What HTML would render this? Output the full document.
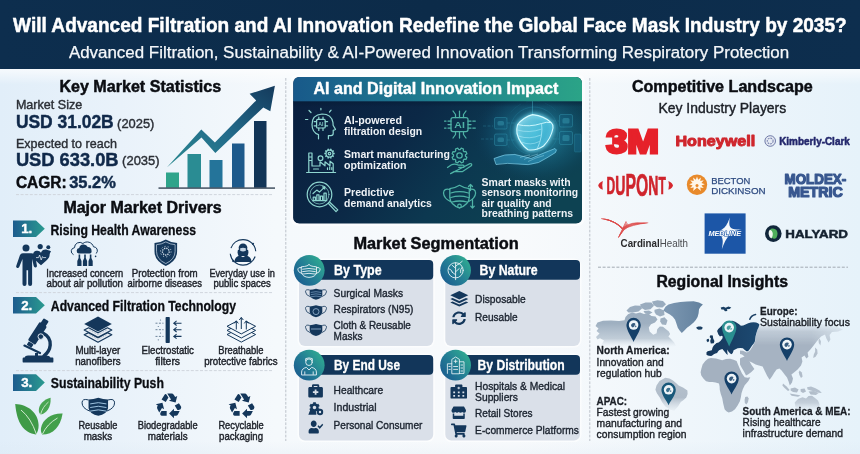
<!DOCTYPE html>
<html lang="en">
<head>
<meta charset="utf-8">
<title>Global Face Mask Industry 2035 Infographic</title>
<style>
html,body{margin:0;padding:0;background:#eaf2f9;}
body{width:860px;height:454px;overflow:hidden;font-family:"Liberation Sans", "DejaVu Sans", sans-serif;}
svg{display:block;font-family:"Liberation Sans", "DejaVu Sans", sans-serif;}
text{white-space:pre;}
</style>
</head>
<body>
<svg width="860" height="454" viewBox="0 0 860 454">
<defs>
<linearGradient id="bg" x1="0" y1="0" x2="1" y2="0">
 <stop offset="0" stop-color="#e1eef9"/><stop offset="0.14" stop-color="#e9f2fa"/><stop offset="0.32" stop-color="#f5f9fc"/>
 <stop offset="0.6" stop-color="#f8fafc"/><stop offset="0.8" stop-color="#eff6fb"/><stop offset="1" stop-color="#e6f2fa"/>
</linearGradient>
<linearGradient id="bgv" x1="0" y1="0" x2="0" y2="1">
 <stop offset="0" stop-color="#ffffff" stop-opacity="0.7"/><stop offset="0.04" stop-color="#ffffff" stop-opacity="0"/>
 <stop offset="0.965" stop-color="#d9e6f1" stop-opacity="0"/><stop offset="1" stop-color="#d9e6f1" stop-opacity="0.22"/>
</linearGradient>
<linearGradient id="hdr" x1="0" y1="0" x2="1" y2="0">
 <stop offset="0" stop-color="#0d2e4e"/><stop offset="0.5" stop-color="#0c2b49"/><stop offset="1" stop-color="#0d2e4e"/>
</linearGradient>
<linearGradient id="aih" x1="0" y1="0" x2="1" y2="0">
 <stop offset="0" stop-color="#18598a"/><stop offset="0.5" stop-color="#1f7f8f"/><stop offset="1" stop-color="#2ba487"/>
</linearGradient>
<linearGradient id="tag" x1="0" y1="0" x2="1" y2="0">
 <stop offset="0" stop-color="#1d5c8e"/><stop offset="1" stop-color="#2a9a8f"/>
</linearGradient>
<linearGradient id="circ" x1="0.1" y1="0.85" x2="0.9" y2="0.2">
 <stop offset="0" stop-color="#1b5f90"/><stop offset="0.5" stop-color="#247f95"/><stop offset="1" stop-color="#2fa791"/>
</linearGradient>
<linearGradient id="arrow" x1="0" y1="1" x2="1" y2="0">
 <stop offset="0" stop-color="#2b8a90"/><stop offset="0.5" stop-color="#226a8a"/><stop offset="1" stop-color="#143a5c"/>
</linearGradient>
<radialGradient id="glow" cx="0.5" cy="0.5" r="0.5">
 <stop offset="0" stop-color="#3fc6d8" stop-opacity="0.75"/><stop offset="0.45" stop-color="#1f7fa0" stop-opacity="0.45"/>
 <stop offset="1" stop-color="#0c2545" stop-opacity="0"/>
</radialGradient>
<clipPath id="aiclip"><rect x="293.3" y="77" width="288.7" height="146.5" rx="6"/></clipPath>
</defs>
<rect x="0" y="0" width="860" height="454" fill="url(#bg)"/>
<rect x="0" y="69" width="860" height="385" fill="url(#bgv)"/>
<rect x="0" y="0" width="860" height="69" fill="url(#hdr)"/>
<text x="13.1" y="31.9" font-size="20.90" font-weight="700" fill="#ffffff" stroke="#ffffff" stroke-width="0.50" stroke-linejoin="round" textLength="833.6" lengthAdjust="spacingAndGlyphs" >Will Advanced Filtration and AI Innovation Redefine the Global Face Mask Industry by 2035?</text>
<text x="68.9" y="57.6" font-size="15.80" font-weight="400" fill="#f4f7fa" stroke="#f4f7fa" stroke-width="0.25" stroke-linejoin="round" textLength="720.3" lengthAdjust="spacingAndGlyphs" >Advanced Filtration, Sustainability &amp; AI-Powered Innovation Transforming Respiratory Protection</text>
<line x1="285.8" y1="78.0" x2="285.8" y2="441.0" stroke="#bcc2ca" stroke-width="1" stroke-dasharray="2.7 1.4"/>
<line x1="589.8" y1="78.0" x2="589.8" y2="441.0" stroke="#bcc2ca" stroke-width="1" stroke-dasharray="2.7 1.4"/>
<line x1="16.0" y1="194.6" x2="272.0" y2="194.6" stroke="#d0d6dd" stroke-width="1" stroke-dasharray="3 1.6"/>
<line x1="16.0" y1="292.6" x2="272.0" y2="292.6" stroke="#d0d6dd" stroke-width="1" stroke-dasharray="3 1.6"/>
<line x1="16.0" y1="370.6" x2="272.0" y2="370.6" stroke="#d0d6dd" stroke-width="1" stroke-dasharray="3 1.6"/>
<line x1="598.0" y1="267.2" x2="848.0" y2="267.2" stroke="#a3aab3" stroke-width="1" stroke-dasharray="3 1.6"/>
<text x="59.4" y="91.9" font-size="15.80" font-weight="700" fill="#0b0d12" stroke="#0b0d12" stroke-width="0.45" stroke-linejoin="round" textLength="161.8" lengthAdjust="spacingAndGlyphs" >Key Market Statistics</text>
<text x="15.9" y="109.4" font-size="12.60" font-weight="400" fill="#2b2f36" stroke="#2b2f36" stroke-width="0.40" stroke-linejoin="round" textLength="66.4" lengthAdjust="spacingAndGlyphs" >Market Size</text>
<text x="15.9" y="128.3" font-size="18.40" font-weight="700" fill="#10294a" stroke="#10294a" stroke-width="0.45" stroke-linejoin="round" textLength="97.8" lengthAdjust="spacingAndGlyphs" >USD 31.02B</text>
<text x="117.1" y="128.0" font-size="13.20" font-weight="400" fill="#2b2f36" stroke="#2b2f36" stroke-width="0.40" stroke-linejoin="round" textLength="37.3" lengthAdjust="spacingAndGlyphs" >(2025)</text>
<text x="15.9" y="147.5" font-size="12.60" font-weight="400" fill="#2b2f36" stroke="#2b2f36" stroke-width="0.40" stroke-linejoin="round" textLength="101.0" lengthAdjust="spacingAndGlyphs" >Expected to reach</text>
<text x="15.9" y="165.5" font-size="18.40" font-weight="700" fill="#10294a" stroke="#10294a" stroke-width="0.45" stroke-linejoin="round" textLength="102.7" lengthAdjust="spacingAndGlyphs" >USD 633.0B</text>
<text x="122.1" y="165.2" font-size="13.20" font-weight="400" fill="#2b2f36" stroke="#2b2f36" stroke-width="0.40" stroke-linejoin="round" textLength="37.5" lengthAdjust="spacingAndGlyphs" >(2035)</text>
<text x="15.9" y="187.8" font-size="16.00" font-weight="700" fill="#0b0d12" stroke="#0b0d12" stroke-width="0.45" stroke-linejoin="round" textLength="50.7" lengthAdjust="spacingAndGlyphs" >CAGR:</text>
<text x="69.2" y="187.8" font-size="16.00" font-weight="700" fill="#10294a" stroke="#10294a" stroke-width="0.45" stroke-linejoin="round" textLength="46.6" lengthAdjust="spacingAndGlyphs" >35.2%</text>
<rect x="166.0" y="172.5" width="13.0" height="15.5" fill="#2fa48b"/>
<rect x="187.5" y="154.0" width="13.5" height="34.0" fill="#2a8c93"/>
<rect x="209.5" y="160.0" width="13.0" height="28.0" fill="#24749a"/>
<rect x="232.0" y="143.5" width="12.5" height="44.5" fill="#1e5a8b"/>
<rect x="254.0" y="121.0" width="12.5" height="67.0" fill="#123557"/>
<rect x="158.5" y="187.3" width="116.5" height="1.6" fill="#4d5b6a"/>
<path d="M166.8 167.4 L201.3 129.4 L214.9 142.4 L256.2 100.4 L249.6 93.8 L274.9 85.8 L270.3 111.2 L263.3 107.4 L215.3 153 L201.5 137.6 Z" fill="url(#arrow)"/>
<text x="63.4" y="213.3" font-size="15.80" font-weight="700" fill="#0b0d12" stroke="#0b0d12" stroke-width="0.45" stroke-linejoin="round" textLength="158.3" lengthAdjust="spacingAndGlyphs" >Major Market Drivers</text>
<path d="M13 220.4 H36 L44.8 228.7 L36 237.0 H13 Z" fill="url(#tag)"/>
<text x="21.2" y="233.1" font-size="12.80" font-weight="700" fill="#ffffff" stroke="#ffffff" stroke-width="0.40" stroke-linejoin="round" textLength="11.1" lengthAdjust="spacingAndGlyphs" >1.</text>
<path d="M13 297.0 H36 L44.8 305.3 L36 313.6 H13 Z" fill="url(#tag)"/>
<text x="21.2" y="309.7" font-size="12.80" font-weight="700" fill="#ffffff" stroke="#ffffff" stroke-width="0.40" stroke-linejoin="round" textLength="11.1" lengthAdjust="spacingAndGlyphs" >2.</text>
<path d="M13 374.2 H36 L44.8 382.5 L36 390.9 H13 Z" fill="url(#tag)"/>
<text x="21.2" y="387.0" font-size="12.80" font-weight="700" fill="#ffffff" stroke="#ffffff" stroke-width="0.40" stroke-linejoin="round" textLength="11.1" lengthAdjust="spacingAndGlyphs" >3.</text>
<text x="50.5" y="234.6" font-size="14.20" font-weight="700" fill="#0b0d12" stroke="#0b0d12" stroke-width="0.30" stroke-linejoin="round" textLength="145.5" lengthAdjust="spacingAndGlyphs" >Rising Health Awareness</text>
<text x="50.8" y="310.6" font-size="14.20" font-weight="700" fill="#0b0d12" stroke="#0b0d12" stroke-width="0.30" stroke-linejoin="round" textLength="185.2" lengthAdjust="spacingAndGlyphs" >Advanced Filtration Technology</text>
<text x="50.8" y="387.7" font-size="14.20" font-weight="700" fill="#0b0d12" stroke="#0b0d12" stroke-width="0.30" stroke-linejoin="round" textLength="113.1" lengthAdjust="spacingAndGlyphs" >Sustainability Push</text>
<text x="46.3" y="276.5" font-size="10.70" font-weight="400" fill="#1d2129" textLength="76.9" lengthAdjust="spacingAndGlyphs" stroke="#1d2129" stroke-width="0.42">Increased concern</text>
<text x="46.6" y="286.7" font-size="10.70" font-weight="400" fill="#1d2129" textLength="76.4" lengthAdjust="spacingAndGlyphs" stroke="#1d2129" stroke-width="0.42">about air pollution</text>
<text x="131.8" y="276.5" font-size="10.70" font-weight="400" fill="#1d2129" textLength="65.9" lengthAdjust="spacingAndGlyphs" stroke="#1d2129" stroke-width="0.42">Protection from</text>
<text x="127.6" y="286.7" font-size="10.70" font-weight="400" fill="#1d2129" textLength="74.4" lengthAdjust="spacingAndGlyphs" stroke="#1d2129" stroke-width="0.42">airborne diseases</text>
<text x="209.4" y="276.5" font-size="10.70" font-weight="400" fill="#1d2129" textLength="65.4" lengthAdjust="spacingAndGlyphs" stroke="#1d2129" stroke-width="0.42">Everyday use in</text>
<text x="213.4" y="286.7" font-size="10.70" font-weight="400" fill="#1d2129" textLength="57.4" lengthAdjust="spacingAndGlyphs" stroke="#1d2129" stroke-width="0.42">public spaces</text>
<text x="75.4" y="354.3" font-size="10.70" font-weight="400" fill="#1d2129" textLength="44.9" lengthAdjust="spacingAndGlyphs" stroke="#1d2129" stroke-width="0.42">Multi-layer</text>
<text x="75.2" y="364.5" font-size="10.70" font-weight="400" fill="#1d2129" textLength="45.4" lengthAdjust="spacingAndGlyphs" stroke="#1d2129" stroke-width="0.42">nanofibers</text>
<text x="141.5" y="354.3" font-size="10.70" font-weight="400" fill="#1d2129" textLength="52.4" lengthAdjust="spacingAndGlyphs" stroke="#1d2129" stroke-width="0.42">Electrostatic</text>
<text x="155.2" y="364.5" font-size="10.70" font-weight="400" fill="#1d2129" textLength="24.9" lengthAdjust="spacingAndGlyphs" stroke="#1d2129" stroke-width="0.42">filters</text>
<text x="218.2" y="354.3" font-size="10.70" font-weight="400" fill="#1d2129" textLength="45.4" lengthAdjust="spacingAndGlyphs" stroke="#1d2129" stroke-width="0.42">Breathable</text>
<text x="204.2" y="364.5" font-size="10.70" font-weight="400" fill="#1d2129" textLength="73.4" lengthAdjust="spacingAndGlyphs" stroke="#1d2129" stroke-width="0.42">protective fabrics</text>
<text x="78.4" y="429.3" font-size="10.70" font-weight="400" fill="#1d2129" textLength="38.9" lengthAdjust="spacingAndGlyphs" stroke="#1d2129" stroke-width="0.42">Reusable</text>
<text x="83.7" y="439.5" font-size="10.70" font-weight="400" fill="#1d2129" textLength="28.4" lengthAdjust="spacingAndGlyphs" stroke="#1d2129" stroke-width="0.42">masks</text>
<text x="137.7" y="429.3" font-size="10.70" font-weight="400" fill="#1d2129" textLength="59.9" lengthAdjust="spacingAndGlyphs" stroke="#1d2129" stroke-width="0.42">Biodegradable</text>
<text x="147.7" y="439.5" font-size="10.70" font-weight="400" fill="#1d2129" textLength="39.9" lengthAdjust="spacingAndGlyphs" stroke="#1d2129" stroke-width="0.42">materials</text>
<text x="218.4" y="429.3" font-size="10.70" font-weight="400" fill="#1d2129" textLength="45.4" lengthAdjust="spacingAndGlyphs" stroke="#1d2129" stroke-width="0.42">Recyclable</text>
<text x="219.1" y="439.5" font-size="10.70" font-weight="400" fill="#1d2129" textLength="43.9" lengthAdjust="spacingAndGlyphs" stroke="#1d2129" stroke-width="0.42">packaging</text>
<rect x="290.2" y="74" width="294.8" height="152" rx="8" fill="#ffffff" opacity="0.55"/>
<g clip-path="url(#aiclip)">
<rect x="293" y="77" width="290" height="146" fill="#0c2444"/>
<defs>
<linearGradient id="aibg" x1="0" y1="0" x2="1" y2="0.35">
 <stop offset="0" stop-color="#0a1f3e"/><stop offset="0.42" stop-color="#0b2846"/><stop offset="0.7" stop-color="#0c3850"/><stop offset="1" stop-color="#0d4252"/>
</linearGradient>
<radialGradient id="aiglow2" cx="0.5" cy="0.5" r="0.5">
 <stop offset="0" stop-color="#56d6ea" stop-opacity="0.55"/><stop offset="0.35" stop-color="#2a9ec0" stop-opacity="0.42"/>
 <stop offset="0.7" stop-color="#17678c" stop-opacity="0.22"/><stop offset="1" stop-color="#0c2a4a" stop-opacity="0"/>
</radialGradient>
<linearGradient id="maskg" x1="0" y1="0" x2="1" y2="1">
 <stop offset="0" stop-color="#c9f6ff"/><stop offset="0.5" stop-color="#63d3ee"/><stop offset="1" stop-color="#2c9cc6"/>
</linearGradient>
<linearGradient id="aishade" x1="0" y1="0" x2="0" y2="1">
 <stop offset="0" stop-color="#061a33" stop-opacity="0.55"/><stop offset="1" stop-color="#061a33" stop-opacity="0"/>
</linearGradient>
</defs>
<rect x="293" y="101" width="290" height="123" fill="url(#aibg)"/>
<ellipse cx="536" cy="134" rx="66" ry="52" fill="url(#aiglow2)"/>
<rect x="293" y="101" width="290" height="6" fill="url(#aishade)"/>
<circle cx="534" cy="131" r="24" fill="none" stroke="#2f9fc0" stroke-width="0.6" opacity="0.35"/>
<circle cx="534" cy="131" r="30" fill="none" stroke="#2f9fc0" stroke-width="0.5" opacity="0.2" stroke-dasharray="14 5"/>
<rect x="494.5" y="117.5" width="12.5" height="11.5" rx="1.5" fill="#14607f" fill-opacity="0.45" stroke="#3fb0c8" stroke-width="0.6" stroke-opacity="0.55"/>
<rect x="497.5" y="121.0" width="6.5" height="4.5" rx="1.5" fill="#4fc3d6" fill-opacity="0.3"/>
<rect x="494.5" y="134.0" width="12.5" height="11.5" rx="1.5" fill="#14607f" fill-opacity="0.45" stroke="#3fb0c8" stroke-width="0.6" stroke-opacity="0.55"/>
<rect x="497.5" y="137.5" width="6.5" height="4.5" rx="1.5" fill="#4fc3d6" fill-opacity="0.3"/>
<rect x="559.5" y="114.5" width="13.0" height="12.5" rx="1.5" fill="#14607f" fill-opacity="0.45" stroke="#3fb0c8" stroke-width="0.6" stroke-opacity="0.55"/>
<rect x="562.5" y="118.0" width="7.0" height="5.5" rx="1.5" fill="#4fc3d6" fill-opacity="0.3"/>
<rect x="559.5" y="131.5" width="13.0" height="13.0" rx="1.5" fill="#14607f" fill-opacity="0.45" stroke="#3fb0c8" stroke-width="0.6" stroke-opacity="0.55"/>
<rect x="562.5" y="135.0" width="7.0" height="6.0" rx="1.5" fill="#4fc3d6" fill-opacity="0.3"/>
<path d="M507 123 h8 M507 140 h8 M553 121 h6 M553 139 h6 M483 126 h10 M481 139 h12" stroke="#3fb2cf" stroke-width="0.6" opacity="0.4" stroke-dasharray="3 1.5"/>
<rect x="574.5" y="134" width="6.500" height="18" rx="1" fill="#1a6f93" fill-opacity="0.4" stroke="#3fb2cf" stroke-width="0.5" stroke-opacity="0.4"/>
<path d="M532.600 101 V115" stroke="#4fc3dc" stroke-width="0.6" opacity="0.7"/>
<filter id="mblur" x="-50%" y="-50%" width="200%" height="200%"><feGaussianBlur stdDeviation="2.2"/></filter>
<path d="M517.600 124.500 Q523.500 117.200 532.600 114.600 Q544.500 116 551.200 122.600 Q553.400 124.600 553 128 Q551 138.500 543.500 146 Q536.500 150.800 528 149.800 Q519.500 143.500 517 133.500 Q516.400 128.500 517.600 124.500 Z" fill="#3fc8ea" fill-opacity="0.55" stroke="#7fe6ff" stroke-width="2.500" filter="url(#mblur)"/>
<path d="M517.600 124.500 Q523.500 117.200 532.600 114.600 Q544.500 116 551.200 122.600 Q553.400 124.600 553 128 Q551 138.500 543.500 146 Q536.500 150.800 528 149.800 Q519.500 143.500 517 133.500 Q516.400 128.500 517.600 124.500 Z" fill="url(#maskg)" fill-opacity="0.5" stroke="#d6fbff" stroke-width="1.1" stroke-linejoin="round"/>
<path d="M517.600 124.500 Q529 127.500 541.500 123.500 Q547 121.500 551.200 122.600" fill="none" stroke="#d6fbff" stroke-width="0.9"/>
<path d="M541.500 123.500 Q543.500 135 537 149.500" fill="none" stroke="#c2f3ff" stroke-width="0.7" opacity="0.9"/>
<path d="M517.500 130 Q529 133.500 541.800 129 M518.500 136 Q529 140 541 135 M521.500 142 Q530 146 539.500 141.500" fill="none" stroke="#c9f6ff" stroke-width="0.6" opacity="0.75"/>
<path d="M494 158.500 Q505 153.500 515 154.500 Q524 156.500 531 158.500 Q540 154.500 555 148.500 Q557.500 149.500 555.500 152.500 Q547 158 538.500 162.500 Q528 166 518 164 Q508 162.500 496 164.500z" fill="#3fb8e6" fill-opacity="0.42" stroke="#8fe0fa" stroke-width="0.7" stroke-opacity="0.85" filter="url(#hblur)"/>
<filter id="hblur" x="-20%" y="-50%" width="140%" height="200%"><feGaussianBlur stdDeviation="0.35"/></filter>
<path d="M524 159.500 q7 -4 14 -5.500 M528 161.500 q8 -4 16 -6 M520 157.500 q5 -2 10 -2.500" fill="none" stroke="#bdf1fc" stroke-width="0.5" opacity="0.7"/>
<rect x="293" y="77" width="290" height="24.3" fill="url(#aih)"/>
</g>
<g fill="none" stroke="#8fd6d0" stroke-width="1.2" stroke-linecap="round" stroke-linejoin="round">
<path d="M318.500 138.800 v-4.200 q-6.500 -2.400 -6.500 -10.200 q0 -9.600 10 -10.400 q9.500 0 11 8.600 l0.100 2.600 l2.400 4.200 l-2.300 1 v3.200 q0 2 -2.200 2 h-2.600 v3.200"/>
<rect x="316.600" y="119.400" width="8.600" height="8.600" rx="1"/>
<path d="M318.800 119.400 v-2.400 M323 119.400 v-2.400 M318.800 128 v2.400 M323 128 v2.400 M316.600 121.600 h-2.400 M316.600 125.800 h-2.400 M325.200 121.600 h2.400 M325.200 125.800 h2.400"/>
<path d="M311 112.500 l-2 -2 M307.800 119.500 h-2.300 M320.900 109.800 v-1.500 M329.500 112 l1.600 -1.800"/>
<path d="M306.600 172.500 h29 M308.800 172.500 v-19.500 h3.200 v13 M312 166 h8 l0 -4.200 l5 4 v-4 l5 4 v-4.600 l3.200 2.600 v8.700 M308.800 157 h3.200 M308.800 160.500 h3.200"/>
<circle cx="329.500" cy="153.600" r="3.500"/><circle cx="329.500" cy="153.600" r="1.300"/>
<circle cx="320.500" cy="158.300" r="2.400"/>
<path d="M313.500 169 h5 M327.500 169.500 v-1.600 M329.700 169.500 v-2.600 M331.800 169.500 v-1.800"/>
</g>
<path d="M333.00 153.60 L334.70 153.60 M332.33 155.66 L333.71 156.66 M330.58 156.93 L331.11 158.55 M328.42 156.93 L327.89 158.55 M326.67 155.66 L325.29 156.66 M326.00 153.60 L324.30 153.60 M326.67 151.54 L325.29 150.54 M328.42 150.27 L327.89 148.65 M330.58 150.27 L331.11 148.65 M332.33 151.54 L333.71 150.54" stroke="#8fd6d0" stroke-width="1.500" fill="none"/>
<g fill="none" stroke="#8fd6d0" stroke-width="1.2" stroke-linecap="round" stroke-linejoin="round">
<circle cx="319.500" cy="194.500" r="12.300"/>
<circle cx="319.500" cy="194.500" r="9.500" stroke-width="0.7"/>
<path d="M328.500 203.500 l7.500 8.200 l1.800 -1.800 l-8 -7.600" />
<path d="M313.200 200.500 v-3.400 h2.200 v3.400 M316.800 200.500 v-5.600 h2.200 v5.600 M320.400 200.500 v-4.400 h2.200 v4.400 M324 200.500 v-7.400 h2.200 v7.400 M312.600 200.700 h14.200"/>
<path d="M313 193.500 l3.800 -3.400 l2.600 2 l5.400 -5.200 M322.600 186.900 h2.200 v2.200"/>
</g>
<g fill="none" stroke="#4fb3a6" stroke-width="1.25" stroke-linecap="round" stroke-linejoin="round">
<rect x="451" y="117.500" width="17" height="14" rx="2"/>
<path d="M448 121 h3 M448 124.500 h3 M448 128 h3 M468 121 h3 M468 124.500 h3 M468 128 h3 M444.500 121 h1.500 M444.500 128 h1.500 M472.800 121 h2.500 M472.800 128 h2.500"/>
<path d="M455.500 117.500 v-3 l-2.500 -3.500 M459.500 117.500 v-6.500 M463.500 117.500 v-3 l2.500 -3.500 M455.500 131.500 v3 l-2.500 3.500 M459.500 131.500 v6.500 M463.500 131.500 v3 l2.500 3.500"/>
<circle cx="459.500" cy="155.500" r="2.700"/>
<path d="M447.500 167.500 l4 -2.800 q3.500 -1.600 7 0.500 h4.500 q1.800 0.500 0.800 2.200 h-5 M463.500 167 l6.500 -3.400 q2.200 -0.200 1.600 1.800 l-9 6.200 h-8.500 l-3.500 2 z"/>
</g>
<path d="M466.90 157.23 L465.98 159.47 L464.20 159.23 L463.25 160.18 L463.51 161.96 L461.27 162.89 L460.19 161.46 L458.84 161.46 L457.77 162.90 L455.53 161.98 L455.77 160.20 L454.82 159.25 L453.04 159.51 L452.11 157.27 L453.54 156.19 L453.54 154.84 L452.10 153.77 L453.02 151.53 L454.80 151.77 L455.75 150.82 L455.49 149.04 L457.73 148.11 L458.81 149.54 L460.16 149.54 L461.23 148.10 L463.47 149.02 L463.23 150.80 L464.18 151.75 L465.96 151.49 L466.89 153.73 L465.46 154.81 L465.46 156.16 Z" fill="none" stroke="#4fb3a6" stroke-width="1.25" stroke-linejoin="round"/>
<text x="454.300" y="127.800" font-size="8.500" font-weight="700" fill="#4fb3a6" textLength="10.500" lengthAdjust="spacingAndGlyphs">AI</text>
<text x="318.300" y="126.200" font-size="5.500" font-weight="700" fill="#8fd6d0" textLength="5.200" lengthAdjust="spacingAndGlyphs" opacity="0.9">AI</text>
<g fill="none" stroke="#4fb3a6" stroke-width="1.25" stroke-linecap="round" stroke-linejoin="round">
<path d="M449.800 188.600 q5 -0.300 9.700 -3.300 q4.800 3 9.800 3.300 v9 q-0.500 7 -9.800 10.400 q-9.200 -3.400 -9.700 -10.400z"/>
<path d="M450.800 193 q8.700 -2.600 17.600 0 M450.800 197.500 q8.700 -2.600 17.600 0 M452 202 q7.600 -2 15.200 0"/>
<path d="M449.800 189.500 q-6 -1.500 -6.300 3.500 q0.300 5.500 7.200 8.600 M469.300 189.500 q6 -1.500 6.300 3.500 q-0.300 5.500 -7.200 8.600"/>
<path d="M470.500 184.500 v6 M468.500 186.500 l2 -2 l2 2 M472.500 199 v9 M470.700 206.200 l1.800 2 l1.800 -2"/>
<circle cx="459.500" cy="206" r="1.800"/>
</g>
<text x="313.5" y="94.2" font-size="15.60" font-weight="700" fill="#ffffff" stroke="#ffffff" stroke-width="0.40" stroke-linejoin="round" textLength="244.8" lengthAdjust="spacingAndGlyphs" >AI and Digital Innovation Impact</text>
<text x="344.0" y="124.0" font-size="11.60" font-weight="700" fill="#eef2f6" textLength="58.0" lengthAdjust="spacingAndGlyphs" >AI-powered</text>
<text x="344.0" y="134.8" font-size="11.60" font-weight="700" fill="#eef2f6" textLength="78.2" lengthAdjust="spacingAndGlyphs" >filtration design</text>
<text x="344.0" y="158.4" font-size="11.60" font-weight="700" fill="#eef2f6" textLength="106.0" lengthAdjust="spacingAndGlyphs" >Smart manufacturing</text>
<text x="344.0" y="169.2" font-size="11.60" font-weight="700" fill="#eef2f6" textLength="62.6" lengthAdjust="spacingAndGlyphs" >optimization</text>
<text x="344.0" y="196.2" font-size="11.60" font-weight="700" fill="#eef2f6" textLength="50.4" lengthAdjust="spacingAndGlyphs" >Predictive</text>
<text x="344.0" y="207.0" font-size="11.60" font-weight="700" fill="#eef2f6" textLength="87.8" lengthAdjust="spacingAndGlyphs" >demand analytics</text>
<text x="481.6" y="185.5" font-size="11.50" font-weight="700" fill="#eef2f6" textLength="89.0" lengthAdjust="spacingAndGlyphs" >Smart masks with</text>
<text x="481.6" y="196.1" font-size="11.50" font-weight="700" fill="#eef2f6" textLength="96.5" lengthAdjust="spacingAndGlyphs" >sensors monitoring</text>
<text x="481.6" y="206.7" font-size="11.50" font-weight="700" fill="#eef2f6" textLength="70.0" lengthAdjust="spacingAndGlyphs" >air quality and</text>
<text x="481.6" y="217.3" font-size="11.50" font-weight="700" fill="#eef2f6" textLength="91.5" lengthAdjust="spacingAndGlyphs" >breathing patterns</text>
<text x="353.4" y="249.3" font-size="15.80" font-weight="700" fill="#0b0d12" stroke="#0b0d12" stroke-width="0.45" stroke-linejoin="round" textLength="165.3" lengthAdjust="spacingAndGlyphs" >Market Segmentation</text>
<rect x="297.4" y="258.4" width="137.4" height="89.2" rx="7.5" fill="#ffffff" opacity="0.6"/>
<path d="M299.0 268.0 H433.2 V340.0 a6 6 0 0 1 -6 6 H305.0 a6 6 0 0 1 -6 -6 Z" fill="#dae0e9"/>
<rect x="312.0" y="260.0" width="121.2" height="19.8" rx="4" fill="#12365a"/>
<circle cx="309.2" cy="270.3" r="15.4" fill="url(#circ)"/>
<text x="334.0" y="274.8" font-size="14.40" font-weight="700" fill="#ffffff" stroke="#ffffff" stroke-width="0.30" stroke-linejoin="round" textLength="47.7" lengthAdjust="spacingAndGlyphs" >By Type</text>
<rect x="443.7" y="258.4" width="137.9" height="89.2" rx="7.5" fill="#ffffff" opacity="0.6"/>
<path d="M445.3 268.0 H580.0 V340.0 a6 6 0 0 1 -6 6 H451.3 a6 6 0 0 1 -6 -6 Z" fill="#dae0e9"/>
<rect x="455.0" y="260.0" width="125.0" height="19.8" rx="4" fill="#12365a"/>
<circle cx="455.6" cy="270.3" r="15.4" fill="url(#circ)"/>
<text x="479.5" y="274.8" font-size="14.40" font-weight="700" fill="#ffffff" stroke="#ffffff" stroke-width="0.30" stroke-linejoin="round" textLength="58.2" lengthAdjust="spacingAndGlyphs" >By Nature</text>
<rect x="297.4" y="353.4" width="137.4" height="88.7" rx="7.5" fill="#ffffff" opacity="0.6"/>
<path d="M299.0 363.0 H433.2 V434.5 a6 6 0 0 1 -6 6 H305.0 a6 6 0 0 1 -6 -6 Z" fill="#dae0e9"/>
<rect x="312.0" y="355.0" width="121.2" height="19.8" rx="4" fill="#12365a"/>
<circle cx="309.2" cy="365.2" r="15.4" fill="url(#circ)"/>
<text x="334.0" y="369.8" font-size="14.40" font-weight="700" fill="#ffffff" stroke="#ffffff" stroke-width="0.30" stroke-linejoin="round" textLength="66.0" lengthAdjust="spacingAndGlyphs" >By End Use</text>
<rect x="443.7" y="353.4" width="137.9" height="88.7" rx="7.5" fill="#ffffff" opacity="0.6"/>
<path d="M445.3 363.0 H580.0 V434.5 a6 6 0 0 1 -6 6 H451.3 a6 6 0 0 1 -6 -6 Z" fill="#dae0e9"/>
<rect x="455.0" y="355.0" width="125.0" height="19.8" rx="4" fill="#12365a"/>
<circle cx="455.6" cy="365.2" r="15.4" fill="url(#circ)"/>
<text x="477.5" y="369.8" font-size="14.40" font-weight="700" fill="#ffffff" stroke="#ffffff" stroke-width="0.30" stroke-linejoin="round" textLength="87.2" lengthAdjust="spacingAndGlyphs" >By Distribution</text>
<text x="333.6" y="297.0" font-size="11.80" font-weight="400" fill="#1c2430" stroke="#1c2430" stroke-width="0.40" stroke-linejoin="round" textLength="69.5" lengthAdjust="spacingAndGlyphs" >Surgical Masks</text>
<text x="333.6" y="313.2" font-size="11.80" font-weight="400" fill="#1c2430" stroke="#1c2430" stroke-width="0.40" stroke-linejoin="round" textLength="79.8" lengthAdjust="spacingAndGlyphs" >Respirators (N95)</text>
<text x="333.6" y="329.3" font-size="11.80" font-weight="400" fill="#1c2430" stroke="#1c2430" stroke-width="0.40" stroke-linejoin="round" textLength="77.3" lengthAdjust="spacingAndGlyphs" >Cloth &amp; Reusable</text>
<text x="333.6" y="340.0" font-size="11.80" font-weight="400" fill="#1c2430" stroke="#1c2430" stroke-width="0.40" stroke-linejoin="round" textLength="29.0" lengthAdjust="spacingAndGlyphs" >Masks</text>
<text x="475.1" y="303.0" font-size="11.80" font-weight="400" fill="#1c2430" stroke="#1c2430" stroke-width="0.40" stroke-linejoin="round" textLength="50.5" lengthAdjust="spacingAndGlyphs" >Disposable</text>
<text x="475.1" y="320.5" font-size="11.80" font-weight="400" fill="#1c2430" stroke="#1c2430" stroke-width="0.40" stroke-linejoin="round" textLength="42.5" lengthAdjust="spacingAndGlyphs" >Reusable</text>
<text x="333.6" y="394.0" font-size="11.80" font-weight="400" fill="#1c2430" stroke="#1c2430" stroke-width="0.40" stroke-linejoin="round" textLength="49.5" lengthAdjust="spacingAndGlyphs" >Healthcare</text>
<text x="333.6" y="411.3" font-size="11.80" font-weight="400" fill="#1c2430" stroke="#1c2430" stroke-width="0.40" stroke-linejoin="round" textLength="43.0" lengthAdjust="spacingAndGlyphs" >Industrial</text>
<text x="333.6" y="429.0" font-size="11.80" font-weight="400" fill="#1c2430" stroke="#1c2430" stroke-width="0.40" stroke-linejoin="round" textLength="88.8" lengthAdjust="spacingAndGlyphs" >Personal Consumer</text>
<text x="475.1" y="390.0" font-size="11.80" font-weight="400" fill="#1c2430" stroke="#1c2430" stroke-width="0.40" stroke-linejoin="round" textLength="90.0" lengthAdjust="spacingAndGlyphs" >Hospitals &amp; Medical</text>
<text x="475.1" y="401.0" font-size="11.80" font-weight="400" fill="#1c2430" stroke="#1c2430" stroke-width="0.40" stroke-linejoin="round" textLength="42.8" lengthAdjust="spacingAndGlyphs" >Suppliers</text>
<text x="475.1" y="417.0" font-size="11.80" font-weight="400" fill="#1c2430" stroke="#1c2430" stroke-width="0.40" stroke-linejoin="round" textLength="57.5" lengthAdjust="spacingAndGlyphs" >Retail Stores</text>
<text x="475.1" y="434.0" font-size="11.80" font-weight="400" fill="#1c2430" stroke="#1c2430" stroke-width="0.40" stroke-linejoin="round" textLength="103.8" lengthAdjust="spacingAndGlyphs" >E-commerce Platforms</text>
<text x="631.9" y="92.1" font-size="15.80" font-weight="700" fill="#0b0d12" stroke="#0b0d12" stroke-width="0.45" stroke-linejoin="round" textLength="180.8" lengthAdjust="spacingAndGlyphs" >Competitive Landscape</text>
<text x="658.5" y="113.0" font-size="14.00" font-weight="400" fill="#1b1f26" stroke="#1b1f26" stroke-width="0.40" stroke-linejoin="round" textLength="127.7" lengthAdjust="spacingAndGlyphs" >Key Industry Players</text>
<text x="606.2" y="152.7" font-size="32.50" font-weight="700" fill="#e6212a" textLength="52.8" lengthAdjust="spacingAndGlyphs" stroke="#e6212a" stroke-width="2.9" stroke-linejoin="miter">3M</text>
<text x="675.4" y="145.6" font-size="14.40" font-weight="700" fill="#cf262d" textLength="79.8" lengthAdjust="spacingAndGlyphs" stroke="#cf262d" stroke-width="0.95" stroke-linejoin="round">Honeywell</text>
<circle cx="770.2" cy="141" r="5.3" fill="#e4eaf3" stroke="#6f7aa8" stroke-width="1"/>
<circle cx="770.2" cy="141" r="2.900" fill="none" stroke="#7e88b2" stroke-width="1.1" stroke-dasharray="1.8 0.9"/>
<text x="779.2" y="144.5" font-size="10.20" font-weight="700" fill="#23276c" textLength="70.6" lengthAdjust="spacingAndGlyphs" stroke="#23276c" stroke-width="0.5" stroke-linejoin="round">Kimberly-Clark</text>
<text x="606.6" y="193.7" font-size="23.5" font-weight="700" fill="#cf242c" stroke="#cf242c" stroke-width="0.7" textLength="59.2" lengthAdjust="spacingAndGlyphs">D<tspan font-size="27.6" dy="1.4">U</tspan><tspan font-size="31" dy="1.2">P</tspan><tspan font-size="31">O</tspan><tspan font-size="27.6" dy="-1.2">N</tspan><tspan font-size="23.5" dy="-1.4">T</tspan></text>
<path d="M598.2 185.4 q0.600 -2.600 4.600 -4.400 q-1.200 4.400 0 8.800 q-4 -1.800 -4.600 -4.400z" fill="#d6272e"/>
<path d="M673 185.400 q-0.600 -2.600 -4.600 -4.400 q1.200 4.400 0 8.800 q4 -1.800 4.600 -4.400z" fill="#d6272e"/>
<circle cx="697" cy="184.700" r="10.2" fill="#e88a2b"/>
<path d="M697.00 176.40 L698.19 179.76 L700.90 177.45 L700.25 180.95 L703.75 180.30 L701.44 183.01 L704.80 184.20 L701.44 185.39 L703.75 188.10 L700.25 187.45 L700.90 190.95 L698.19 188.64 L697.00 192.00 L695.81 188.64 L693.10 190.95 L693.75 187.45 L690.25 188.10 L692.56 185.39 L689.20 184.20 L692.56 183.01 L690.25 180.30 L693.75 180.95 L693.10 177.45 L695.81 179.76 Z" fill="#fff7ea"/>
<path d="M693.800 191.600 l3.200 -4.400 l3.200 4.400 l-1.600 1.800 h-3.200z" fill="#e88a2b"/>
<circle cx="697" cy="185.600" r="1.500" fill="#e88a2b"/>
<text x="711.2" y="184.1" font-size="9.90" font-weight="400" fill="#2d4a80" textLength="39.1" lengthAdjust="spacingAndGlyphs" stroke="#2d4a80" stroke-width="0.25">BECTON</text>
<text x="711.2" y="193.8" font-size="9.90" font-weight="400" fill="#2d4a80" textLength="54.4" lengthAdjust="spacingAndGlyphs" stroke="#2d4a80" stroke-width="0.25">DICKINSON</text>
<text x="784.6" y="184.3" font-size="13.80" font-weight="700" fill="#38578f" textLength="61.6" lengthAdjust="spacingAndGlyphs" stroke="#38578f" stroke-width="1.2" stroke-linejoin="round">MOLDEX-</text>
<text x="788.2" y="197.3" font-size="13.80" font-weight="700" fill="#38578f" textLength="54.6" lengthAdjust="spacingAndGlyphs" stroke="#38578f" stroke-width="1.2" stroke-linejoin="round">METRIC</text>
<g fill="none" stroke="#dc4a4a" stroke-width="0.7" stroke-linecap="round">
<path d="M601.5 218.6 Q615.0 220.0 622.6 229.6 Q632.0 224.5 647.8 222.8"/>
<path d="M626.0 221.5 Q622.5 229.0 618.5 237.5"/>
<path d="M602.8 218.8 Q615.4 220.6 622.6 229.3 Q632.0 223.8 646.4 222.9"/>
<path d="M626.5 222.5 Q622.7 229.0 618.8 236.9"/>
<path d="M604.1 219.0 Q615.9 221.1 622.6 228.9 Q632.0 223.2 644.9 223.0"/>
<path d="M627.1 223.5 Q622.9 229.0 619.2 236.4"/>
<path d="M605.5 219.3 Q616.3 221.7 622.6 228.6 Q632.0 222.5 643.5 223.1"/>
<path d="M627.6 224.5 Q623.2 229.0 619.5 235.8"/>
<path d="M606.8 219.5 Q616.8 222.2 622.6 228.3 Q632.0 221.9 642.1 223.2"/>
<path d="M628.2 225.5 Q623.4 229.0 619.8 235.3"/>
<path d="M608.1 219.7 Q617.2 222.8 622.6 227.9 Q632.0 221.2 640.6 223.4"/>
<path d="M628.8 226.4 Q623.6 229.0 620.1 234.8"/>
</g>
<text x="620.6" y="246.6" font-size="11.3" font-weight="700" fill="#2a2a2c" textLength="67.4" lengthAdjust="spacingAndGlyphs">Cardinal<tspan font-weight="400" fill="#4a4c50">Health</tspan></text>
<rect x="704.6" y="213.4" width="41" height="40.300" fill="#1c56a7"/>
<path d="M729.8 217.6 C728.2 228 730 230.400 741.8 229.200 C730.400 232 726.600 236 721.800 249.600 C724.400 236.400 722.600 233.600 708.800 233.800 C723 231.400 726.200 228 729.800 217.600 Z" fill="#f4f8fc"/>
<text x="708.4" y="236.1" font-size="6.80" font-weight="700" fill="#ffffff" textLength="32.8" lengthAdjust="spacingAndGlyphs" font-style="italic" stroke="#1c56a7" stroke-width="1.1" paint-order="stroke" stroke-linejoin="round">MEDLINE</text>
<circle cx="773.3" cy="233.600" r="8.3" fill="#11263b"/>
<path d="M770.8 228.8 q3.4 -1.2 5.600 1.200 q2.200 3.200 0.200 7.400 q-1.400 1.800 -3.600 1.200 q-2.600 -1 -3.400 -4.200 q-0.600 -3.600 1.200 -5.600z" fill="#4fae5c"/>
<path d="M769.800 229.800 q2.600 0.600 3 4 q0.200 2.800 -1.400 4.600 q-2.400 -1.200 -2.800 -4.400 q-0.200 -2.600 1.200 -4.200z" fill="#f0f6f0"/>
<text x="785.3" y="237.8" font-size="11.40" font-weight="700" fill="#14212f" textLength="62.7" lengthAdjust="spacingAndGlyphs" stroke="#14212f" stroke-width="0.5">HALYARD</text>
<text x="656.4" y="287.3" font-size="15.80" font-weight="700" fill="#0b0d12" stroke="#0b0d12" stroke-width="0.45" stroke-linejoin="round" textLength="131.6" lengthAdjust="spacingAndGlyphs" >Regional Insights</text>
<defs>
<linearGradient id="naG" gradientUnits="userSpaceOnUse" x1="0" y1="300" x2="0" y2="347">
 <stop offset="0" stop-color="#98abbe"/><stop offset="0.5" stop-color="#9fb0c1"/><stop offset="0.82" stop-color="#b4c2cf" stop-opacity="0.8"/><stop offset="1" stop-color="#d5dee7" stop-opacity="0"/>
</linearGradient>
<linearGradient id="grG" gradientUnits="userSpaceOnUse" x1="663" y1="0" x2="703" y2="0">
 <stop offset="0" stop-color="#7f99b3"/><stop offset="1" stop-color="#62819e"/>
</linearGradient>
<linearGradient id="asG" gradientUnits="userSpaceOnUse" x1="0" y1="320" x2="0" y2="345">
 <stop offset="0" stop-color="#cfd8e2" stop-opacity="0"/><stop offset="0.45" stop-color="#b4c0cd" stop-opacity="0.8"/><stop offset="1" stop-color="#a6b3c2"/>
</linearGradient>
<linearGradient id="asFade" gradientUnits="userSpaceOnUse" x1="812" y1="0" x2="850" y2="0">
 <stop offset="0" stop-color="#fff"/><stop offset="1" stop-color="#fff" stop-opacity="0.35"/>
</linearGradient>
<mask id="asM" maskUnits="userSpaceOnUse" x="740" y="300" width="120" height="130"><rect x="740" y="300" width="120" height="130" fill="url(#asFade)"/></mask>
<linearGradient id="saG" gradientUnits="userSpaceOnUse" x1="0" y1="377" x2="0" y2="411">
 <stop offset="0" stop-color="#b6c2ce"/><stop offset="0.6" stop-color="#b0bcc9"/><stop offset="1" stop-color="#c9d3dd" stop-opacity="0.15"/>
</linearGradient>
<linearGradient id="euG" gradientUnits="userSpaceOnUse" x1="706" y1="0" x2="760" y2="0">
 <stop offset="0" stop-color="#15375b"/><stop offset="1" stop-color="#1d4a72"/>
</linearGradient>
<linearGradient id="auG" gradientUnits="userSpaceOnUse" x1="0" y1="395" x2="0" y2="411">
 <stop offset="0" stop-color="#b2becb"/><stop offset="0.5" stop-color="#bcc7d3" stop-opacity="0.8"/><stop offset="1" stop-color="#d3dce5" stop-opacity="0"/>
</linearGradient>
</defs>
<path d="M595.5 326.0 L597.5 322.4 L603.0 320.8 L611.0 320.6 L619.0 321.0 L624.5 320.3 L625.5 317.0 L628.0 314.2 L632.0 312.6 L636.0 313.6 L640.0 312.4 L644.0 314.0 L648.0 313.4 L651.5 316.0 L655.5 316.6 L657.5 319.6 L655.0 322.6 L651.0 324.2 L648.8 327.6 L649.6 331.6 L653.2 334.8 L656.6 333.2 L657.2 329.2 L659.8 326.4 L663.0 326.8 L666.0 329.2 L668.6 331.2 L670.2 334.0 L668.4 336.6 L671.0 339.0 L674.2 342.6 L676.0 346.0 L672.0 347.0 L600.0 347.0 L604.0 340.5 L600.0 338.2 L597.5 339.6 L596.0 337.0 L599.5 333.5 L596.5 331.0 L598.5 328.4 Z" fill="url(#naG)" />
<path d="M626.5 310.5 L630.0 307.0 L635.0 305.4 L640.5 305.8 L642.0 308.6 L638.5 311.4 L633.0 312.4 L628.5 312.6 Z" fill="url(#naG)" />
<path d="M640.0 304.5 L645.5 302.4 L651.5 302.6 L654.0 305.8 L650.5 309.2 L645.0 310.0 L641.5 308.0 Z" fill="url(#naG)" />
<path d="M652.0 301.6 L657.5 300.2 L663.0 301.0 L666.0 304.2 L662.5 307.6 L657.0 307.2 L653.5 305.0 Z" fill="url(#naG)" />
<path d="M654.5 309.8 L659.5 308.4 L664.0 310.6 L664.5 315.0 L660.0 316.4 L656.0 314.6 L654.5 312.0 Z" fill="url(#naG)" />
<path d="M643.5 311.0 L649.0 310.4 L652.5 312.6 L649.0 314.4 L645.0 313.6 Z" fill="url(#naG)" />
<path d="M660.5 318.5 L664.5 317.2 L667.5 320.6 L666.0 325.0 L662.0 324.4 L660.2 321.6 Z" fill="url(#naG)" />
<path d="M663.3 310.5 L665.5 306.8 L668.5 304.6 L674.0 303.0 L680.4 302.0 L687.0 301.4 L693.6 301.3 L699.0 302.4 L702.9 304.6 L700.6 306.8 L699.0 309.2 L698.6 313.2 L697.6 317.1 L695.8 320.0 L693.6 322.4 L690.4 325.2 L687.0 327.7 L684.4 330.6 L681.8 333.0 L679.6 330.6 L677.8 327.7 L676.4 323.6 L675.1 319.8 L672.8 316.8 L669.9 314.5 L666.2 312.6 Z" fill="url(#grG)" />
<g mask="url(#asM)">
<path d="M759.4 324.5 L766.0 322.6 L776.0 321.6 L790.0 321.2 L806.0 322.0 L822.0 324.0 L836.0 326.6 L843.0 329.6 L838.0 331.6 L832.0 332.0 L829.6 335.0 L830.4 339.6 L828.6 342.6 L826.4 338.6 L825.0 334.6 L821.0 336.6 L817.0 341.0 L813.6 345.6 L810.4 349.6 L807.6 352.6 L808.4 356.8 L806.4 358.4 L804.4 355.4 L801.6 357.6 L802.4 361.6 L801.0 365.6 L797.6 369.6 L794.0 372.6 L791.4 374.6 L793.0 378.6 L792.0 382.4 L789.8 385.4 L788.6 381.6 L787.0 377.6 L784.6 374.4 L781.6 370.4 L779.4 368.6 L776.6 369.6 L774.4 372.4 L772.0 376.6 L769.6 379.8 L767.2 376.0 L765.0 371.6 L762.6 366.6 L759.0 365.4 L755.6 364.4 L752.0 362.6 L749.4 361.2 L751.6 365.0 L754.4 369.0 L751.4 372.0 L748.0 374.6 L746.0 375.6 L744.0 371.6 L741.6 367.6 L740.0 364.4 L738.6 360.6 L740.6 358.0 L744.6 356.6 L742.0 354.6 L738.0 353.6 L736.0 351.6 L739.0 350.4 L743.0 350.8 L746.9 352.6 L750.0 350.6 L752.5 346.6 L755.0 342.0 L755.8 336.4 L757.4 329.8 Z" fill="url(#asG)" />
<path d="M815.0 347.5 L817.2 349.5 L817.6 353.5 L815.6 356.8 L813.2 358.0 L813.8 354.5 L815.2 351.5 Z" fill="#b0bcc9" />
<path d="M819.5 338.5 L821.0 341.5 L820.4 345.5 L818.8 343.0 L818.6 340.5 Z" fill="#b0bcc9" />
<path d="M799.6 370.5 L801.8 372.5 L802.6 376.5 L801.0 378.0 L799.4 375.0 L798.8 372.5 Z" fill="#b0bcc9" />
<path d="M783.0 383.5 L786.6 386.4 L789.6 390.0 L788.0 391.0 L784.6 388.0 L782.4 385.4 Z" fill="#b0bcc9" />
<path d="M790.6 388.6 L795.0 387.6 L798.6 389.6 L797.0 392.4 L793.0 392.0 L790.6 390.6 Z" fill="#b0bcc9" />
<path d="M800.6 389.0 L804.6 388.6 L806.0 391.4 L803.0 393.0 L800.6 391.6 Z" fill="#b0bcc9" />
<path d="M808.6 391.6 L814.0 391.0 L818.6 393.0 L816.0 395.0 L810.6 394.4 Z" fill="#b0bcc9" />
<path d="M789.6 393.6 L795.6 394.4 L800.6 395.6 L798.0 396.8 L791.6 395.8 Z" fill="#b0bcc9" />
</g>
<path d="M794.7 402.5 L798.0 399.0 L802.5 397.2 L806.0 398.4 L808.5 396.0 L812.0 395.8 L815.0 398.0 L818.0 400.6 L819.6 404.6 L818.6 409.0 L814.0 411.0 L806.0 411.0 L799.0 410.0 L795.4 407.0 Z" fill="url(#auG)" />
<path d="M807.0 387.2 L811.0 386.5 L815.5 388.2 L819.5 390.6 L821.8 393.0 L818.6 392.8 L814.6 391.4 L810.6 390.6 L807.6 389.4 Z" fill="#b4c0cd" />
<path d="M701.3 369.1 L702.6 364.6 L705.3 361.1 L708.0 358.8 L710.9 357.9 L716.0 358.4 L722.2 360.3 L726.0 359.0 L730.2 358.7 L733.6 359.8 L736.6 361.1 L738.2 365.0 L739.9 369.1 L742.0 373.4 L744.7 377.2 L747.6 377.8 L750.3 377.2 L748.4 381.0 L744.7 385.2 L742.8 389.2 L741.5 393.2 L740.8 397.4 L739.9 401.3 L737.6 405.6 L735.0 409.3 L732.0 411.6 L728.6 412.5 L726.4 411.2 L724.6 409.3 L723.2 403.6 L722.2 398.1 L720.8 394.0 L719.8 390.0 L719.6 386.6 L719.0 383.6 L715.6 382.4 L712.5 382.0 L709.2 382.0 L706.1 381.2 L703.4 378.6 L701.3 375.6 L700.6 372.2 Z" fill="#a4b1c0" />
<path d="M745.2 397.0 L747.4 396.4 L748.7 398.6 L748.0 402.0 L746.4 404.6 L744.8 403.0 L744.6 400.0 Z" fill="#adb9c6" />
<path d="M656.5 385.4 L659.5 381.0 L665.3 377.7 L669.5 378.4 L673.0 380.5 L676.0 383.0 L678.6 385.4 L683.0 387.6 L687.4 390.4 L687.6 394.0 L686.3 397.5 L683.6 400.0 L680.8 402.0 L678.0 406.5 L674.2 410.8 L669.6 409.6 L665.3 406.4 L662.0 402.0 L659.8 397.5 L657.0 393.6 L655.4 389.8 Z" fill="url(#saG)" />
<path d="M706.6 354.9 L706.4 352.6 L707.6 351.2 L711.8 350.3 L712.6 347.6 L713.8 345.6 L716.5 343.0 L718.6 342.4 L720.4 341.0 L721.6 339.6 L722.4 338.4 L722.8 336.4 L721.4 335.8 L720.0 336.6 L718.4 334.4 L717.1 331.1 L718.2 329.0 L720.4 327.1 L722.8 324.6 L725.7 322.5 L729.0 321.2 L732.3 320.8 L735.2 321.8 L737.6 323.2 L739.4 324.6 L740.9 325.8 L743.2 325.4 L745.5 324.5 L748.2 323.2 L750.8 322.5 L753.6 322.2 L756.1 322.5 L758.0 323.2 L759.4 324.5 L758.6 327.2 L757.4 329.8 L756.4 333.0 L755.5 336.4 L755.2 339.0 L754.8 341.7 L753.6 343.8 L752.1 345.6 L750.8 347.6 L749.5 349.6 L748.2 351.0 L746.9 351.6 L744.8 350.0 L742.9 348.3 L740.4 348.0 L737.6 348.3 L735.6 349.2 L733.6 350.3 L733.0 352.4 L731.7 354.2 L730.2 353.6 L729.0 352.3 L727.8 350.8 L727.0 349.6 L727.4 352.4 L727.7 354.9 L726.2 353.8 L725.1 352.3 L723.6 350.4 L722.4 349.0 L720.8 349.4 L719.1 350.3 L718.0 351.6 L717.1 352.9 L715.4 353.6 L713.8 354.2 L712.6 355.2 L711.2 356.0 L708.8 355.8 Z" fill="url(#euG)" />
<path d="M710.4 335.3 L712.8 335.6 L713.2 338.4 L714.4 341.0 L713.8 343.2 L710.8 343.4 L710.2 341.0 L711.0 338.6 L709.6 337.0 Z" fill="#16395c" />
<path d="M706.8 339.2 L708.8 338.8 L709.2 341.0 L707.8 342.2 L706.6 341.0 Z" fill="#16395c" />
<path d="M696.3 327.2 L698.4 326.4 L701.0 326.6 L702.9 327.8 L701.6 329.4 L698.6 329.7 L696.8 328.8 Z" fill="#1a3f63" />
<path d="M720.7 307.6 L723.6 306.8 L725.6 307.8 L728.4 306.6 L731.3 307.4 L729.6 309.0 L726.8 309.2 L727.4 311.0 L725.0 311.2 L723.6 309.6 L721.4 309.4 Z" fill="#1a3f63" />
<path d="M755.6 314.400 q-4.400 0.800 -5.800 4.800" fill="none" stroke="#1a3f63" stroke-width="1.500" stroke-linecap="round"/>
<path d="M633.6 342.0 C632.1 338.0 626.4 330.4 626.4 325.0 A7.2 7.2 0 1 1 640.8 325.0 C640.8 330.4 635.1 338.0 633.6 342.0 Z" fill="#154069"/>
<circle cx="633.6" cy="325.0" r="4.8" fill="#eef4f8"/>
<path d="M631.4 324.2 q1.600 -1.800 3.600 -1 q1 1 -0.400 2.200 q-0.400 1.400 -1.800 2 q-1.400 -0.400 -1.800 -1.800z" fill="#154069" opacity="0.85"/>
<path d="M634.8 325.6 q1.200 -0.600 1.800 0.600 q-0.600 1.400 -1.800 1z" fill="#154069" opacity="0.7"/>
<path d="M729.2 346.6 C727.7 342.6 722.0 333.0 722.0 327.6 A7.2 7.2 0 1 1 736.4 327.6 C736.4 333.0 730.7 342.6 729.2 346.6 Z" fill="#2a8f90"/>
<circle cx="729.2" cy="327.6" r="4.8" fill="#eef4f8"/>
<path d="M727.0 326.8 q1.600 -1.800 3.600 -1 q1 1 -0.400 2.200 q-0.400 1.400 -1.800 2 q-1.400 -0.400 -1.800 -1.800z" fill="#2a8f90" opacity="0.85"/>
<path d="M730.4 328.2 q1.200 -0.600 1.800 0.600 q-0.600 1.400 -1.800 1z" fill="#2a8f90" opacity="0.7"/>
<path d="M787.0 361.0 C785.5 357.0 779.8 350.0 779.8 344.6 A7.2 7.2 0 1 1 794.2 344.6 C794.2 350.0 788.5 357.0 787.0 361.0 Z" fill="#154069"/>
<circle cx="787.0" cy="344.6" r="4.8" fill="#eef4f8"/>
<path d="M784.8 343.8 q1.600 -1.800 3.600 -1 q1 1 -0.400 2.200 q-0.400 1.400 -1.800 2 q-1.400 -0.400 -1.800 -1.800z" fill="#154069" opacity="0.85"/>
<path d="M788.2 345.2 q1.200 -0.600 1.800 0.600 q-0.600 1.400 -1.800 1z" fill="#154069" opacity="0.7"/>
<path d="M731.6 394.4 C730.1 390.4 724.4 384.0 724.4 378.6 A7.2 7.2 0 1 1 738.8 378.6 C738.8 384.0 733.1 390.4 731.6 394.4 Z" fill="#154069"/>
<circle cx="731.6" cy="378.6" r="4.8" fill="#eef4f8"/>
<path d="M729.4 377.8 q1.600 -1.800 3.600 -1 q1 1 -0.400 2.200 q-0.400 1.400 -1.800 2 q-1.400 -0.400 -1.800 -1.800z" fill="#154069" opacity="0.85"/>
<path d="M732.8 379.2 q1.200 -0.600 1.800 0.600 q-0.600 1.400 -1.800 1z" fill="#154069" opacity="0.7"/>
<path d="M668.6 405.2 C667.1 401.2 661.4 395.2 661.4 389.8 A7.2 7.2 0 1 1 675.8 389.8 C675.8 395.2 670.1 401.2 668.6 405.2 Z" fill="#19587a"/>
<circle cx="668.6" cy="389.8" r="4.8" fill="#eef4f8"/>
<path d="M666.4 389.0 q1.600 -1.800 3.600 -1 q1 1 -0.400 2.200 q-0.400 1.400 -1.800 2 q-1.400 -0.400 -1.800 -1.800z" fill="#19587a" opacity="0.85"/>
<path d="M669.8 390.4 q1.200 -0.600 1.800 0.600 q-0.600 1.400 -1.800 1z" fill="#19587a" opacity="0.7"/>
<text x="760.1" y="315.0" font-size="11.60" font-weight="700" fill="#1b1f26" stroke="#1b1f26" stroke-width="0.30" stroke-linejoin="round" textLength="37.5" lengthAdjust="spacingAndGlyphs" >Europe:</text>
<text x="760.1" y="326.2" font-size="11.60" font-weight="400" fill="#1b1f26" stroke="#1b1f26" stroke-width="0.40" stroke-linejoin="round" textLength="89.8" lengthAdjust="spacingAndGlyphs" >Sustainability focus</text>
<text x="596.6" y="354.2" font-size="11.60" font-weight="700" fill="#1b1f26" stroke="#1b1f26" stroke-width="0.30" stroke-linejoin="round" textLength="73.0" lengthAdjust="spacingAndGlyphs" >North America:</text>
<text x="596.6" y="366.0" font-size="11.60" font-weight="400" fill="#1b1f26" stroke="#1b1f26" stroke-width="0.40" stroke-linejoin="round" textLength="67.0" lengthAdjust="spacingAndGlyphs" >Innovation and</text>
<text x="596.6" y="377.0" font-size="11.60" font-weight="400" fill="#1b1f26" stroke="#1b1f26" stroke-width="0.40" stroke-linejoin="round" textLength="65.0" lengthAdjust="spacingAndGlyphs" >regulation hub</text>
<text x="596.6" y="404.5" font-size="11.60" font-weight="700" fill="#1b1f26" stroke="#1b1f26" stroke-width="0.30" stroke-linejoin="round" textLength="30.5" lengthAdjust="spacingAndGlyphs" >APAC:</text>
<text x="596.6" y="416.0" font-size="11.60" font-weight="400" fill="#1b1f26" stroke="#1b1f26" stroke-width="0.40" stroke-linejoin="round" textLength="72.5" lengthAdjust="spacingAndGlyphs" >Fastest growing</text>
<text x="596.6" y="427.0" font-size="11.60" font-weight="400" fill="#1b1f26" stroke="#1b1f26" stroke-width="0.40" stroke-linejoin="round" textLength="85.5" lengthAdjust="spacingAndGlyphs" >manufacturing and</text>
<text x="596.6" y="438.0" font-size="11.60" font-weight="400" fill="#1b1f26" stroke="#1b1f26" stroke-width="0.40" stroke-linejoin="round" textLength="90.0" lengthAdjust="spacingAndGlyphs" >consumption region</text>
<text x="742.6" y="414.5" font-size="11.60" font-weight="700" fill="#1b1f26" stroke="#1b1f26" stroke-width="0.30" stroke-linejoin="round" textLength="108.0" lengthAdjust="spacingAndGlyphs" >South America &amp; MEA:</text>
<text x="742.6" y="425.7" font-size="11.60" font-weight="400" fill="#1b1f26" stroke="#1b1f26" stroke-width="0.40" stroke-linejoin="round" textLength="78.0" lengthAdjust="spacingAndGlyphs" >Rising healthcare</text>
<text x="742.6" y="437.0" font-size="11.60" font-weight="400" fill="#1b1f26" stroke="#1b1f26" stroke-width="0.40" stroke-linejoin="round" textLength="100.5" lengthAdjust="spacingAndGlyphs" >infrastructure demand</text>
<g fill="#14375b">
<circle cx="26" cy="248" r="3.5"/>
<path d="M20.8 253.2 h10.6 q3.2 0 3.9 3 l1.6 9.2 q0.3 1.8 -1.2 2.1 q-1.5 0.3 -2 -1.4 l-1.6 -7.2 v25 q0 2 -2 2 t-2 -2 v-13.6 h-1.6 v13.6 q0 2 -2 2 t-2 -2 v-25 l-3.3 8 q-0.7 1.6 -2.1 1 q-1.4 -0.6 -0.8 -2.2 l3.6 -10.4 q0.8 -2.1 2.9 -2.1z"/>
<path d="M41 265.3 C36 261 33 258.3 33 255 a4.3 4.3 0 0 1 8 -2.2 a4.3 4.3 0 0 1 8.6 2.2 C49.6 258.3 46 261 41 265.3z"/>
<circle cx="40.2" cy="246.6" r="2.6"/><circle cx="48.3" cy="247.2" r="2"/>
<path d="M45.5 250.5 q3 -1 5.5 0.8 l-1.3 2.5 q-2 -1 -3.4 -0.5z"/>
</g>
<path d="M36 257.6 h2.6 l1 -2.6 l1.6 5 l1.3 -3.4 l0.8 1 h2.8" fill="none" stroke="#dfeaf3" stroke-width="0.8" stroke-linejoin="round"/>
<path d="M73.2 254.5 a3.6 3.6 0 0 1 1.3 -6.8 a5.2 5.2 0 0 1 8.4 -4.2 a6.6 6.6 0 0 1 10.6 3.3 a3.9 3.9 0 0 1 3 6.4" fill="none" stroke="#14375b" stroke-width="1" stroke-linecap="round"/>
<g fill="#14375b">
<path d="M78.8 253.6 a2.8 2.8 0 0 1 0.4 -5.5 a4.6 4.6 0 0 1 8.6 -1 a3.3 3.3 0 0 1 3.7 3.3 a2.6 2.6 0 0 1 -1.2 3.2z"/>
<path d="M78.6 254.5 h1.6 v3.6 l1.3 2.8 v5.2 h-4.2 v-5.2 l1.3 -2.8z"/>
<path d="M84.2 254.5 h1.6 v3.6 l1.3 2.8 v5.2 h-4.2 v-5.2 l1.3 -2.8z"/>
<path d="M89.8 254.5 h1.6 v3.6 l1.3 2.8 v5.2 h-4.2 v-5.2 l1.3 -2.8z"/>
<circle cx="95.6" cy="256.4" r="0.8"/>
</g>
<g transform="translate(1.2 0.3)">
<path d="M164.6 239.2 q5 3.2 11.3 3.4 v8.4 q0 9.6 -11.3 14.6 q-11.3 -5 -11.3 -14.6 v-8.4 q6.3 -0.2 11.3 -3.4z" fill="#14375b"/>
<path d="M164.6 241.6 q4.3 2.5 9.3 2.8 v6.6 q0 8 -9.3 12.3 q-9.3 -4.3 -9.3 -12.3 v-6.6 q5 -0.3 9.3 -2.8z" fill="none" stroke="#c9d9e8" stroke-width="0.7"/>
<circle cx="164.6" cy="251.3" r="3.4" fill="none" stroke="#dfe9f2" stroke-width="1.3" stroke-dasharray="1.3 1"/>
<circle cx="164.6" cy="251.3" r="5.3" fill="none" stroke="#dfe9f2" stroke-width="1" stroke-dasharray="0.9 2.4"/>
</g>
<g transform="translate(243 252.4) scale(1.04) translate(-242 -252)">
<circle cx="242" cy="252" r="12.3" fill="none" stroke="#14375b" stroke-width="1.1" stroke-dasharray="33 5.6" stroke-dashoffset="-4"/>
<g fill="#14375b">
<circle cx="242" cy="247.6" r="4.2"/>
<path d="M237.2 249.5 q-1 3 0.6 6 h8.4 q1.6 -3 0.6 -6z"/>
<path d="M233.8 261.2 q0.3 -5.6 5.4 -6.2 l2.8 1.6 l2.8 -1.6 q5.1 0.6 5.4 6.2z"/>
<circle cx="251.6" cy="243.8" r="1.1"/><circle cx="232.6" cy="260.3" r="1.1"/>
</g>
<path d="M239.3 248 q2.7 -1 5.4 0 v2.4 q-2.7 1.6 -5.4 0z" fill="#c5d5e4"/>
</g>
<g fill="#14375b">
<g transform="rotate(33 37 334)"><rect x="32.6" y="322.5" width="8.8" height="21.5" rx="1.2"/><rect x="34" y="317" width="6" height="6.500" rx="1"/><rect x="34.200" y="344.600" width="5.600" height="4" rx="0.600"/></g>
<path d="M24.6 357.6 q0.4 -2.200 3.400 -2.200 h18 q3.600 0 4.400 2.200 l2.200 0 q0.800 0 0.800 1.200 v2.600 q0 1.200 -1.200 1.200 h-28.400 q-1.200 0 -1.200 -1.200 v-2.600 q0 -1.200 1.200 -1.200z"/>
</g>
<path d="M43.6 333.400 q7.200 3.600 6.600 11.800 q-0.600 6.600 -6.200 10.600" fill="none" stroke="#14375b" stroke-width="3.400" stroke-linecap="round"/>
<path d="M24.400 345.600 l15.600 7.400" fill="none" stroke="#14375b" stroke-width="2.200" stroke-linecap="round"/>
<circle cx="40.800" cy="336.600" r="2.800" fill="#14375b" stroke="#dfe9f2" stroke-width="1"/>
<path d="M36.500 353 v3" stroke="#14375b" stroke-width="3"/>
<path d="M98 316.6 L111.8 324 L98 331.4 L84.2 324z" fill="#14375b"/>
<path d="M88.6 332.6 L84.2 334.8 L98 342.2 L111.8 334.8 L107.4 332.6 L98 337.6z" fill="#e6ecf3" stroke="#14375b" stroke-width="1.2" stroke-linejoin="round"/>
<path d="M88.6 327.8 L84.2 330 L98 337.4 L111.8 330 L107.4 327.8 L98 332.8z" fill="#e6ecf3" stroke="#14375b" stroke-width="1.2" stroke-linejoin="round"/>
<path d="M89 334.600 L98 339.400 L107 334.600 M89 329.800 L98 334.600 L107 329.800" fill="none" stroke="#7f93a8" stroke-width="0.7" stroke-dasharray="0.8 1"/>
<rect x="165.6" y="317" width="4.2" height="26" rx="0.8" fill="#14375b"/>
<path d="M181.5 323.2 H174 M176.6 320.9 l-2.8 2.3 l2.8 2.3" fill="none" stroke="#14375b" stroke-width="1.1"/>
<path d="M155.5 323.2 h8" stroke="#5d7690" stroke-width="0.9" stroke-dasharray="2 1.4"/>
<path d="M181.5 329.7 H174 M176.6 327.4 l-2.8 2.3 l2.8 2.3" fill="none" stroke="#14375b" stroke-width="1.1"/>
<path d="M155.5 329.7 h8" stroke="#5d7690" stroke-width="0.9" stroke-dasharray="2 1.4"/>
<path d="M181.5 336.4 H174 M176.6 334.1 l-2.8 2.3 l2.8 2.3" fill="none" stroke="#14375b" stroke-width="1.1"/>
<path d="M155.5 336.4 h8" stroke="#5d7690" stroke-width="0.9" stroke-dasharray="2 1.4"/>
<circle cx="160.5" cy="320.0" r="0.6" fill="#5d7690"/>
<circle cx="158.3" cy="326.5" r="0.6" fill="#5d7690"/>
<circle cx="160.5" cy="333.0" r="0.6" fill="#5d7690"/>
<circle cx="158.3" cy="339.8" r="0.6" fill="#5d7690"/>
<path d="M231 332.5 L227 334.5 L241.3 342.1 L255.6 334.5 L251.6 332.5" fill="none" stroke="#14375b" stroke-width="1" stroke-linejoin="round"/>
<path d="M231 328.4 L227 330.4 L241.3 338.0 L255.6 330.4 L251.6 328.4" fill="none" stroke="#14375b" stroke-width="1" stroke-linejoin="round"/>
<path d="M236.6 321.3 L227 326.3 L241.3 333.9 L255.6 326.3 L246 321.3" fill="none" stroke="#14375b" stroke-width="1" stroke-linejoin="round"/>
<path d="M236.3 329.5 V321.0 M234.3 323.4 l2 -2.6 l2 2.6" fill="none" stroke="#14375b" stroke-width="1"/>
<path d="M241.3 329.0 V317.6 M239.3 320.0 l2 -2.6 l2 2.6" fill="none" stroke="#14375b" stroke-width="1"/>
<path d="M246.3 329.5 V321.0 M244.3 323.4 l2 -2.6 l2 2.6" fill="none" stroke="#14375b" stroke-width="1"/>
<g>
<path d="M15.2 404 C28 404.5 38.5 413 38.6 425 C38.7 429 37.5 432.5 36 434.5 C24 432.5 17 424 15.2 404z" fill="#3f9a47"/>
<path d="M62.6 413.5 C52 413 42.5 419 41 428 C40.6 430.5 41.2 433 42.3 434.6 C53 434.5 60.5 427 62.6 413.5z" fill="#43a04b"/>
<path d="M50.6 397.8 C44 399.5 38.6 404.5 38.8 410.4 C38.9 412.2 39.6 413.6 40.6 414.6 C46.6 413.4 51.2 407.5 50.6 397.8z" fill="#49a651"/>
<path d="M21 410 Q31 418 36.3 434" fill="none" stroke="#dff0dc" stroke-width="0.9"/>
<path d="M57.5 418 Q47 424 42.5 434" fill="none" stroke="#dff0dc" stroke-width="0.9"/>
<path d="M48.5 402 Q42.5 407 40.6 414.4" fill="none" stroke="#dff0dc" stroke-width="0.8"/>
</g>
<path d="M88.55 399.96 q-6.50 -1.80 -6.50 2.88 q0.00 5.40 7.80 8.28" fill="none" stroke="#14375b" stroke-width="1.00"/><path d="M108.05 399.96 q6.50 -1.80 6.50 2.88 q0.00 5.40 -7.80 8.28" fill="none" stroke="#14375b" stroke-width="1.00"/><path d="M88.55 399.60 Q93.42 399.24 98.30 397.80 Q103.17 399.24 108.05 399.60 L108.05 408.24 Q106.75 414.36 98.30 415.80 Q89.85 414.36 88.55 408.24 Z" fill="#14375b"/><path d="M90.17 403.92 Q98.30 401.40 106.42 403.92" fill="none" stroke="#9fc3e0" stroke-width="0.99"/><path d="M90.17 407.52 Q98.30 405.00 106.42 407.52" fill="none" stroke="#9fc3e0" stroke-width="0.99"/><path d="M90.17 411.12 Q98.30 408.60 106.42 411.12" fill="none" stroke="#9fc3e0" stroke-width="0.99"/>
<g transform="translate(154.59 391.04) scale(1.20952 1.18095)" fill="#14375b" ><path d="M5.77 7.15 7.2 4.78l1.03-1.71c.39-.65 1.33-.65 1.72 0l1.48 2.46-1.23 2.06-1 1.62-3.43-2.06zm15.95 5.82-1.6-2.66-3.46 2L18.87 16H20a2 2 0 0 0 2-2c0-.36-.1-.71-.28-1.03zM16 21h1.5a2 2 0 0 0 1.79-1.11L20.74 17H16v-2l-4 4 4 4v-2zm-6-4H5.7l-.84 1.41c-.3.5-.32 1.12-.06 1.65.28.57.87.94 1.52.94H10v-4zm-3.88-2.65 1.73 1.04L6.48 9.9 1 11.27l1.7 1.02-.41.69c-.35.59-.38 1.31-.07 1.92l1.63 3.26 2.27-3.81zm10.9-9.21-1.3-2.17C15.35 2.37 14.7 2 14 2h-3.53l3.12 5.2-1.72 1.03 5.49 1.37 1.37-5.49-1.71 1.03z"/></g>
<g transform="translate(227.37 391.04) scale(1.22857 1.18095)" fill="#14375b" ><path d="M5.77 7.15 7.2 4.78l1.03-1.71c.39-.65 1.33-.65 1.72 0l1.48 2.46-1.23 2.06-1 1.62-3.43-2.06zm15.95 5.82-1.6-2.66-3.46 2L18.87 16H20a2 2 0 0 0 2-2c0-.36-.1-.71-.28-1.03zM16 21h1.5a2 2 0 0 0 1.79-1.11L20.74 17H16v-2l-4 4 4 4v-2zm-6-4H5.7l-.84 1.41c-.3.5-.32 1.12-.06 1.65.28.57.87.94 1.52.94H10v-4zm-3.88-2.65 1.73 1.04L6.48 9.9 1 11.27l1.7 1.02-.41.69c-.35.59-.38 1.31-.07 1.92l1.63 3.26 2.27-3.81zm10.9-9.21-1.3-2.17C15.35 2.37 14.7 2 14 2h-3.53l3.12 5.2-1.72 1.03 5.49 1.37 1.37-5.49-1.71 1.03z"/></g>
<path d="M309.70 290.02 q-4.20 -1.10 -4.20 1.76 q0.00 3.30 5.04 5.06" fill="none" stroke="#14375b" stroke-width="0.80"/><path d="M322.30 290.02 q4.20 -1.10 4.20 1.76 q0.00 3.30 -5.04 5.06" fill="none" stroke="#14375b" stroke-width="0.80"/><path d="M309.70 289.80 Q312.85 289.58 316.00 288.70 Q319.15 289.58 322.30 289.80 L322.30 295.08 Q321.46 298.82 316.00 299.70 Q310.54 298.82 309.70 295.08 Z" fill="#14375b"/><path d="M310.75 292.44 Q316.00 290.90 321.25 292.44" fill="none" stroke="#8fb4d6" stroke-width="0.60"/><path d="M310.75 294.64 Q316.00 293.10 321.25 294.64" fill="none" stroke="#8fb4d6" stroke-width="0.60"/><path d="M310.75 296.84 Q316.00 295.30 321.25 296.84" fill="none" stroke="#8fb4d6" stroke-width="0.60"/>
<path d="M309.70 306.64 q-4.20 -1.20 -4.20 1.92 q0.00 3.60 5.04 5.52" fill="none" stroke="#14375b" stroke-width="0.80"/><path d="M322.30 306.64 q4.20 -1.20 4.20 1.92 q0.00 3.60 -5.04 5.52" fill="none" stroke="#14375b" stroke-width="0.80"/><path d="M309.70 306.40 Q312.85 306.16 316.00 305.20 Q319.15 306.16 322.30 306.40 L322.30 312.16 Q321.46 316.24 316.00 317.20 Q310.54 316.24 309.70 312.16 Z" fill="#14375b"/>
<circle cx="316" cy="311.6" r="3" fill="none" stroke="#9ab7d3" stroke-width="0.8"/>
<path d="M309.70 325.44 q-4.20 -1.20 -4.20 1.92 q0.00 3.60 5.04 5.52" fill="none" stroke="#14375b" stroke-width="0.80"/><path d="M322.30 325.44 q4.20 -1.20 4.20 1.92 q0.00 3.60 -5.04 5.52" fill="none" stroke="#14375b" stroke-width="0.80"/><path d="M309.70 325.20 Q312.85 324.96 316.00 324.00 Q319.15 324.96 322.30 325.20 L322.30 330.96 Q321.46 335.04 316.00 336.00 Q310.54 335.04 309.70 330.96 Z" fill="#14375b"/>
<path d="M311 329 h10" stroke="#9ab7d3" stroke-width="0.8"/>
<path d="M459.3 291 L468.3 295.2 L459.3 299.4 L450.3 295.2z" fill="#14375b"/>
<path d="M452.6 298 L450.3 299 L459.3 303.2 L468.3 299 L466 298 L459.3 301z" fill="#14375b"/>
<path d="M452.6 301.4 L450.3 302.4 L459.3 306.6 L468.3 302.4 L466 301.4 L459.3 304.4z" fill="#14375b"/>
<g transform="translate(452.00 311.20) scale(0.02734 0.02734)" fill="#14375b" ><path d="M370.72 133.28C339.458 104.008 298.888 87.962 255.848 88c-77.458.068-144.328 53.178-162.791 126.85-1.344 5.363-6.122 9.15-11.651 9.15H24.103c-7.498 0-13.194-6.807-11.807-14.176C33.933 94.924 134.813 8 256 8c66.448 0 126.791 26.136 171.315 68.685L463.03 40.97C478.149 25.851 504 36.559 504 57.941V192c0 13.255-10.745 24-24 24H345.941c-21.382 0-32.09-25.851-16.971-40.971l41.75-41.749zM32 296h134.059c21.382 0 32.09 25.851 16.971 40.971l-41.75 41.75c31.262 29.273 71.835 45.319 114.876 45.28 77.418-.07 144.315-53.144 162.787-126.849 1.344-5.363 6.122-9.15 11.651-9.15h57.304c7.498 0 13.194 6.807 11.807 14.176C478.067 417.076 377.187 504 256 504c-66.448 0-126.791-26.136-171.315-68.685L48.97 471.03C33.851 486.149 8 475.441 8 454.059V320c0-13.255 10.745-24 24-24z"/></g>
<g transform="translate(308.30 383.50) scale(0.02852 0.02734)" fill="#14375b" ><path d="M464 128h-80V80c0-26.5-21.5-48-48-48H176c-26.5 0-48 21.5-48 48v48H48c-26.5 0-48 21.5-48 48v288c0 26.5 21.5 48 48 48h416c26.5 0 48-21.5 48-48V176c0-26.5-21.5-48-48-48zM192 96h128v32H192V96zm160 248c0 4.4-3.6 8-8 8h-56v56c0 4.4-3.6 8-8 8h-48c-4.4 0-8-3.6-8-8v-56h-56c-4.4 0-8-3.6-8-8v-48c0-4.4 3.6-8 8-8h56v-56c0-4.4 3.6-8 8-8h48c4.4 0 8 3.6 8 8v56h56c4.4 0 8 3.6 8 8v48z"/></g>
<g transform="translate(309.00 402.00) scale(0.02148 0.02148)" fill="#14375b" ><path d="M487.4 315.7l-42.6-24.6c4.3-23.2 4.3-47 0-70.2l42.6-24.6c4.9-2.8 7.1-8.6 5.5-14-11.1-35.6-30-67.8-54.7-94.6-3.8-4.1-10-5.1-14.8-2.3L380.8 110c-17.9-15.4-38.5-27.3-60.8-35.1V25.8c0-5.6-3.9-10.5-9.4-11.7-36.7-8.2-74.3-7.8-109.2 0-5.5 1.2-9.4 6.1-9.4 11.7V75c-22.2 7.9-42.8 19.8-60.8 35.1L88.7 85.5c-4.9-2.8-11-1.9-14.8 2.3-24.7 26.7-43.6 58.9-54.7 94.6-1.7 5.4.6 11.2 5.5 14L67.3 221c-4.3 23.2-4.3 47 0 70.2l-42.6 24.6c-4.9 2.8-7.1 8.6-5.5 14 11.1 35.6 30 67.8 54.7 94.6 3.8 4.1 10 5.1 14.8 2.3l42.6-24.6c17.9 15.4 38.5 27.3 60.8 35.1v49.2c0 5.6 3.9 10.5 9.4 11.7 36.7 8.2 74.3 7.8 109.2 0 5.5-1.2 9.4-6.1 9.4-11.7v-49.2c22.2-7.9 42.8-19.8 60.8-35.1l42.6 24.6c4.9 2.8 11 1.9 14.8-2.3 24.7-26.7 43.6-58.9 54.7-94.6 1.5-5.5-.7-11.3-5.6-14.1zM256 336c-44.1 0-80-35.9-80-80s35.9-80 80-80 80 35.9 80 80-35.9 80-80 80z"/></g>
<circle cx="320" cy="412" r="3.2" fill="#14375b"/><circle cx="320" cy="412" r="1.2" fill="#dde4ed"/>
<path d="M308.3 414.8 h8 v-2 l-3 -3 h-3z" fill="#14375b"/>
<g transform="translate(308.60 420.60) scale(0.02281 0.02539)" fill="#14375b" ><path d="M224 256c70.7 0 128-57.3 128-128S294.7 0 224 0 96 57.3 96 128s57.3 128 128 128zm89.6 32h-16.7c-22.2 10.2-46.9 16-72.9 16s-50.6-5.8-72.9-16h-16.7C60.2 288 0 348.2 0 422.4V464c0 26.5 21.5 48 48 48h352c26.5 0 48-21.5 48-48v-41.6c0-74.2-60.2-134.4-134.4-134.4zm323-128.4l-27.8-28.1c-4.6-4.7-12.1-4.7-16.8-.1l-104.8 104-45.5-45.8c-4.6-4.7-12.1-4.7-16.8-.1l-28.1 27.9c-4.7 4.6-4.7 12.1-.1 16.8l81.7 82.3c4.6 4.7 12.1 4.7 16.8.1l141.3-140.2c4.6-4.7 4.7-12.2.1-16.8z"/></g>
<g transform="translate(450.50 384.50) scale(0.02865 0.02734)" fill="#14375b" ><path d="M544 96H416V32c0-17.7-14.3-32-32-32H192c-17.7 0-32 14.3-32 32v64H32c-17.7 0-32 14.3-32 32v368c0 8.8 7.2 16 16 16h544c8.8 0 16-7.2 16-16V128c0-17.7-14.3-32-32-32zM160 436c0 6.6-5.4 12-12 12h-40c-6.6 0-12-5.4-12-12v-40c0-6.6 5.4-12 12-12h40c6.6 0 12 5.4 12 12v40zm0-128c0 6.6-5.4 12-12 12h-40c-6.6 0-12-5.4-12-12v-40c0-6.6 5.4-12 12-12h40c6.6 0 12 5.4 12 12v40zm160 128c0 6.6-5.4 12-12 12h-40c-6.6 0-12-5.4-12-12v-40c0-6.6 5.4-12 12-12h40c6.6 0 12 5.4 12 12v40zm0-128c0 6.6-5.4 12-12 12h-40c-6.6 0-12-5.4-12-12v-40c0-6.6 5.4-12 12-12h40c6.6 0 12 5.4 12 12v40zm16-170c0 3.3-2.7 6-6 6h-26v26c0 3.3-2.7 6-6 6h-20c-3.3 0-6-2.7-6-6v-26h-26c-3.3 0-6-2.7-6-6v-20c0-3.3 2.7-6 6-6h26V86c0-3.3 2.7-6 6-6h20c3.3 0 6 2.7 6 6v26h26c3.3 0 6 2.7 6 6v20zm144 298c0 6.6-5.4 12-12 12h-40c-6.6 0-12-5.4-12-12v-40c0-6.6 5.4-12 12-12h40c6.6 0 12 5.4 12 12v40zm0-128c0 6.6-5.4 12-12 12h-40c-6.6 0-12-5.4-12-12v-40c0-6.6 5.4-12 12-12h40c6.6 0 12 5.4 12 12v40z"/></g>
<g transform="translate(451.50 406.50) scale(0.02354 0.02441)" fill="#14375b" ><path d="M602 118.6L537.1 15C531.3 5.7 521 0 510 0H106C95 0 84.7 5.7 78.9 15L14 118.6c-33.5 53.5-3.8 127.9 58.8 136.4 4.5.6 9.1.9 13.7.9 29.6 0 55.8-13 73.8-33.1 18 20.1 44.3 33.1 73.8 33.1 29.6 0 55.8-13 73.8-33.1 18 20.1 44.3 33.1 73.8 33.1 29.6 0 55.8-13 73.8-33.1 18.1 20.1 44.3 33.1 73.8 33.1 4.7 0 9.2-.3 13.7-.9 62.8-8.4 92.6-82.8 59-136.4zM529.5 288c-10 0-19.9-1.5-29.5-3.8V384H116v-99.8c-9.6 2.2-19.5 3.8-29.5 3.8-6 0-12.1-.4-18-1.2-5.6-.8-11.1-2.1-16.4-3.6V480c0 17.7 14.3 32 32 32h448c17.7 0 32-14.3 32-32V283.2c-5.4 1.6-10.8 2.9-16.4 3.6-6.1.8-12.1 1.2-18.2 1.2z"/></g>
<g transform="translate(451.00 423.50) scale(0.02691 0.02734)" fill="#14375b" ><path d="M528.12 301.319l47.273-208C578.806 78.301 567.391 64 551.99 64H159.208l-9.166-44.81C147.758 8.021 137.93 0 126.529 0H24C10.745 0 0 10.745 0 24v16c0 13.255 10.745 24 24 24h69.883l70.248 343.435C147.325 417.1 136 435.222 136 456c0 30.928 25.072 56 56 56s56-25.072 56-56c0-15.674-6.447-29.835-16.824-40h209.647C430.447 426.165 424 440.326 424 456c0 30.928 25.072 56 56 56s56-25.072 56-56c0-22.172-12.888-41.332-31.579-50.405l5.517-24.276c3.413-15.018-8.002-29.319-23.403-29.319H218.117l-6.545-32h293.145c11.206 0 20.92-7.754 23.403-18.681z"/></g>
<g fill="none" stroke="#e8f2f6" stroke-width="0.9" stroke-linejoin="round" stroke-linecap="round">
<path d="M301.5 266.8 q7.5 -0.6 7.5 -2.6 q0 2 7.500 2.6 v6 q-1 4.2 -7.5 4.6 q-6.5 -0.4 -7.5 -4.600z"/>
<path d="M302.6 269.2 q6.4 -1.6 12.8 0 M302.6 271.6 q6.4 -1.600 12.800 0 M303 274 q6 -1.400 12 0"/>
<path d="M301.5 267.6 q-4 -0.6 -3.600 2.4 q0.4 2.6 4.200 3.600 M316.5 267.6 q4 -0.600 3.600 2.400 q-0.400 2.600 -4.200 3.600"/>
</g>
<g fill="none" stroke="#e8f2f6" stroke-width="0.9" stroke-linecap="round">
<g transform="translate(-2.400 0.300)"><circle cx="458" cy="270" r="7.6"/>
<path d="M458 262.400 v17 M458 268 l-3.400 -3 M458 271.500 l3.600 -3.200 M458 274.500 l-3.600 -2.800 M458 266 l3.200 -2.600 M451.500 268.500 q3 1 3.400 3.600 M464.400 267 q-2.200 2.400 -1.400 5.400 M461 264 l3.600 -3"/></g>
</g>
<g fill="none" stroke="#e8f2f6" stroke-width="0.9" stroke-linejoin="round" stroke-linecap="round">
<circle cx="309" cy="362.2" r="3.3"/>
<path d="M305.700 360.800 v-2.200 q3.300 -1.400 6.600 0 v2.200"/>
<path d="M301.600 374.600 v-2.600 q0.200 -3.600 4.800 -4.600 l2.600 2.600 l2.600 -2.600 q4.600 1 4.800 4.600 v2.600 z"/>
<path d="M304.800 374.400 v-2.600 M313.200 374.400 v-2.600"/>
</g>
<g fill="none" stroke="#e8f2f6" stroke-width="0.85" stroke-linejoin="round" stroke-linecap="round">
<path d="M451.800 373.400 v-14 l3.800 -2.400 l3.800 2.400 v14 z"/>
<path d="M447.400 373.400 v-9.600 h4.400 M459.400 361.800 h4.600 v11.600 h-4.600"/>
<path d="M455.600 359.800 v3 M454.100 361.300 h3 M453.600 366.500 h4 M453.600 369.400 h4 M448.900 366.500 h1.400 M448.900 369.400 h1.400 M461 365 h1.600 M461 368 h1.600 M461 371 h1.600"/>
</g>
</svg>
</body>
</html>
